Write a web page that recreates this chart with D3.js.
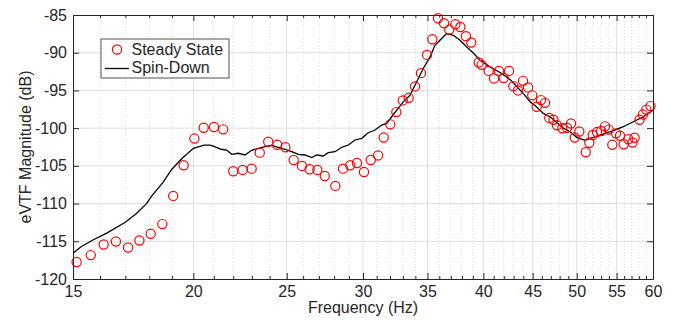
<!DOCTYPE html>
<html>
<head>
<meta charset="utf-8">
<script src="https://cdn.jsdelivr.net/npm/d3@7"></script>
<style>
  body { margin: 0; background: #fff; }
  text { font-family: "Liberation Sans", Arial, Helvetica, sans-serif; fill: #262626; }
</style>
</head>
<body>
<svg id="chart"></svg>
<script>
// Steady state measurements (frequency in Hz, magnitude in dB)
const ss_freq = [15.13, 15.65, 16.14, 16.62, 17.11, 17.58, 18.06, 18.57, 19.06, 19.54,
    20.05, 20.50, 21.01, 21.48, 22.00, 22.50, 22.99, 23.44, 23.92, 24.44,
    24.92, 25.42, 25.93, 26.41, 26.90, 27.38, 28.08, 28.60, 29.10, 29.57,
    30.07, 30.56, 31.10, 31.52, 32.02, 32.49, 32.99, 33.46, 33.97, 34.46,
    34.96, 35.41, 35.89, 36.41, 36.87, 37.41, 37.86, 38.37, 38.86, 39.56,
    39.84, 40.51, 41.03, 41.52, 41.99, 42.53, 42.97, 43.45, 43.98, 44.51,
    44.96, 45.44, 45.91, 46.35, 46.83, 47.30, 47.70, 48.31, 48.85, 49.32,
    49.76, 50.31, 51.09, 51.53, 51.95, 52.48, 53.00, 53.50, 53.97, 54.44,
    54.92, 55.45, 55.94, 56.56, 57.13, 57.41, 58.10, 58.58, 59.05, 59.64];
const ss_db = [-117.75, -116.83, -115.42, -115.03, -115.82, -114.89, -114.01, -112.72, -108.98, -104.92,
    -101.38, -99.95, -99.85, -100.16, -105.71, -105.54, -105.37, -103.25, -101.80, -102.20,
    -102.54, -104.22, -105.01, -105.45, -105.54, -106.34, -107.66, -105.37, -104.92, -104.62,
    -105.81, -104.22, -103.62, -101.24, -99.50, -97.87, -96.32, -95.98, -94.47, -92.71,
    -90.29, -88.21, -85.44, -86.10, -86.93, -86.23, -86.59, -87.82, -88.65, -91.30,
    -91.61, -92.41, -93.41, -92.41, -93.35, -92.41, -94.43, -95.00, -93.73, -94.60,
    -95.65, -97.17, -96.28, -96.65, -98.64, -98.89, -99.62, -100.01, -99.95, -99.39,
    -101.24, -100.45, -103.19, -101.93, -100.91, -100.52, -100.38, -99.76, -100.19, -102.21,
    -100.69, -101.01, -102.13, -101.47, -101.90, -101.28, -98.89, -98.20, -97.54, -97.08];

// Spin-down sweep (frequency in Hz, magnitude in dB)
const sd_freq = [15.00, 15.29, 15.75, 16.26, 16.98, 17.47, 17.89, 18.10, 18.61, 18.99,
    19.46, 20.00, 20.52, 20.81, 21.01, 21.37, 21.66, 21.92, 22.27, 22.63,
    22.99, 23.36, 23.73, 24.12, 24.50, 24.90, 25.30, 25.70, 26.12, 26.54,
    26.86, 27.28, 27.61, 28.06, 28.51, 28.97, 29.43, 29.91, 30.38, 30.87,
    31.37, 31.75, 32.13, 32.52, 33.03, 33.57, 34.11, 34.65, 35.21, 35.63,
    36.21, 36.64, 37.23, 37.83, 38.59, 39.05, 39.68, 40.64, 41.79, 42.63,
    43.32, 44.01, 44.72, 45.44, 46.16, 46.91, 47.67, 48.42, 49.20, 50.00,
    51.00, 52.02, 53.28, 54.57, 55.89, 57.24, 58.63, 60.00];
const sd_db = [-116.60, -115.73, -114.80, -113.92, -112.51, -111.27, -109.97, -109.02, -107.17, -105.48,
    -104.02, -102.67, -102.24, -102.24, -102.43, -102.80, -102.90, -103.47, -103.33, -103.56,
    -102.94, -102.67, -102.46, -102.28, -102.54, -102.80, -103.12, -103.47, -103.56, -103.89,
    -103.56, -103.69, -103.25, -103.12, -102.54, -102.24, -101.57, -101.35, -100.61, -100.25,
    -99.59, -99.37, -98.49, -97.61, -96.51, -95.62, -93.86, -92.09, -90.56, -89.01,
    -88.12, -87.46, -87.69, -88.35, -89.44, -90.03, -90.99, -91.88, -92.75, -93.54,
    -94.50, -95.40, -96.51, -97.21, -98.04, -98.49, -99.26, -99.99, -100.48, -101.22,
    -101.61, -101.22, -100.78, -100.32, -99.81, -99.15, -98.49, -97.61];

// Tick values
const x_major_ticks = [15, 20, 25, 30, 35, 40, 45, 50, 55, 60];
const x_minor_ticks = d3.range(16, 60).filter(v => v % 5 !== 0);
const y_ticks = [-120, -115, -110, -105, -100, -95, -90, -85];

const legend_labels = ["Steady State", "Spin-Down"];

// Dimensions
const width = 675, height = 320;
const margins = { top: 15, right: 22, bottom: 41, left: 73 };
const chart_width = width - margins.left - margins.right;
const chart_height = height - margins.top - margins.bottom;

const x_scale = d3.scaleLog().domain([15, 60]).range([0, chart_width]);
const y_scale = d3.scaleLinear().domain([-120, -85]).range([chart_height, 0]);

const svg = d3.select("#chart")
    .attr("width", width)
    .attr("height", height)
    .append("g")
    .attr("transform", `translate(${margins.left},${margins.top})`);

// Minor vertical grid (dotted)
svg.append("g").selectAll("line")
    .data(x_minor_ticks)
    .enter().append("line")
    .attr("x1", d => x_scale(d)).attr("x2", d => x_scale(d))
    .attr("y1", 0).attr("y2", chart_height)
    .attr("stroke", "#dcdcdc")
    .attr("stroke-width", 1)
    .attr("stroke-dasharray", "1,2");

// Major grid
svg.append("g").selectAll("line")
    .data(x_major_ticks.slice(1, -1))
    .enter().append("line")
    .attr("x1", d => x_scale(d)).attr("x2", d => x_scale(d))
    .attr("y1", 0).attr("y2", chart_height)
    .attr("stroke", "#dfdfdf")
    .attr("stroke-width", 1);
svg.append("g").selectAll("line")
    .data(y_ticks.slice(1, -1))
    .enter().append("line")
    .attr("x1", 0).attr("x2", chart_width)
    .attr("y1", d => y_scale(d)).attr("y2", d => y_scale(d))
    .attr("stroke", "#dfdfdf")
    .attr("stroke-width", 1);

// Spin-down line
const sd_line = d3.line()
    .x((d, i) => x_scale(sd_freq[i]))
    .y(d => y_scale(d));
svg.append("path")
    .datum(sd_db)
    .attr("d", sd_line)
    .attr("fill", "none")
    .attr("stroke", "#000")
    .attr("stroke-width", 1.3);

// Steady state circles
svg.append("g").selectAll("circle")
    .data(ss_db)
    .enter().append("circle")
    .attr("cx", (d, i) => x_scale(ss_freq[i]))
    .attr("cy", d => y_scale(d))
    .attr("r", 4.6)
    .attr("fill", "none")
    .attr("stroke", "#ff0000")
    .attr("stroke-width", 1.2);

// Axes (ticks pointing inward)
function style_axis(g) {
    g.selectAll("path, line").attr("stroke", "#262626");
    g.selectAll("text").attr("font-size", "16px").attr("fill", "#262626")
        .attr("font-family", "Liberation Sans, Arial, sans-serif");
}
const fmt = d => String(d);

svg.append("g")
    .attr("transform", `translate(0,${chart_height})`)
    .call(d3.axisBottom(x_scale).tickValues(x_major_ticks).tickFormat(fmt)
        .tickSizeInner(-6).tickSizeOuter(0).tickPadding(7))
    .call(style_axis);
svg.append("g")
    .attr("transform", `translate(0,${chart_height})`)
    .call(d3.axisBottom(x_scale).tickValues(x_minor_ticks).tickFormat("")
        .tickSizeInner(-3).tickSizeOuter(0))
    .call(style_axis);
svg.append("g")
    .call(d3.axisTop(x_scale).tickValues(x_major_ticks).tickFormat("")
        .tickSizeInner(-6).tickSizeOuter(0))
    .call(style_axis);
svg.append("g")
    .call(d3.axisTop(x_scale).tickValues(x_minor_ticks).tickFormat("")
        .tickSizeInner(-3).tickSizeOuter(0))
    .call(style_axis);
svg.append("g")
    .call(d3.axisLeft(y_scale).tickValues(y_ticks).tickFormat(fmt)
        .tickSizeInner(-6).tickSizeOuter(0).tickPadding(6))
    .call(style_axis);
svg.append("g")
    .attr("transform", `translate(${chart_width},0)`)
    .call(d3.axisRight(y_scale).tickValues(y_ticks).tickFormat("")
        .tickSizeInner(-6).tickSizeOuter(0))
    .call(style_axis);

// Axis titles
svg.append("text")
    .attr("x", chart_width / 2)
    .attr("y", chart_height + 34)
    .attr("text-anchor", "middle")
    .attr("font-size", "16px")
    .text("Frequency (Hz)");
svg.append("text")
    .attr("transform", `translate(${-42},${chart_height / 2}) rotate(-90)`)
    .attr("text-anchor", "middle")
    .attr("font-size", "16px")
    .text("eVTF Magnitude (dB)");

// Legend
const legend = svg.append("g").attr("transform", `translate(${101 - margins.left},${39 - margins.top})`);
legend.append("rect")
    .attr("width", 128).attr("height", 39)
    .attr("fill", "#fff")
    .attr("stroke", "#262626")
    .attr("stroke-width", 0.8);
legend.append("circle")
    .attr("cx", 16).attr("cy", 10.5).attr("r", 4.6)
    .attr("fill", "none").attr("stroke", "#ff0000").attr("stroke-width", 1.2);
legend.append("line")
    .attr("x1", 4).attr("x2", 28).attr("y1", 29.5).attr("y2", 29.5)
    .attr("stroke", "#000").attr("stroke-width", 1.3);
legend.selectAll("text.lbl")
    .data(legend_labels)
    .enter().append("text")
    .attr("class", "lbl")
    .attr("x", 30.5)
    .attr("y", (d, i) => 15.5 + i * 18.5)
    .attr("font-size", "16px")
    .text(d => d);
</script>
</body>
</html>
